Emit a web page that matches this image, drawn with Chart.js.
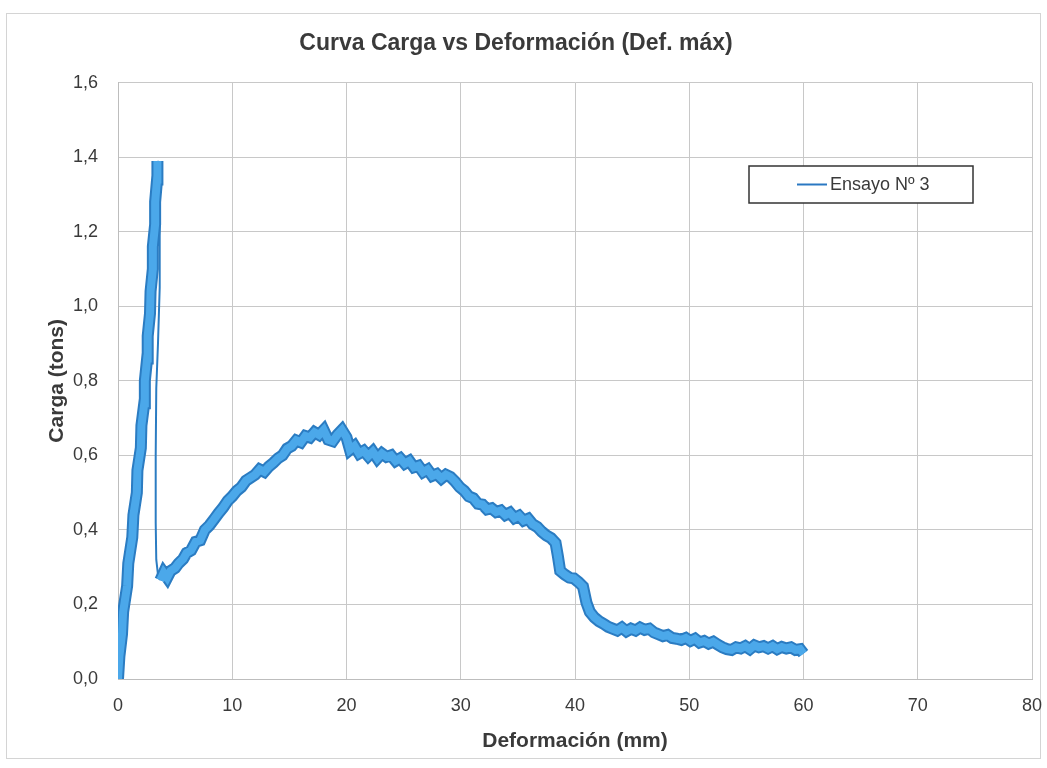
<!DOCTYPE html>
<html>
<head>
<meta charset="utf-8">
<script src="https://cdn.jsdelivr.net/npm/chart.js@4/dist/chart.umd.min.js"></script>
<style>
  html, body { margin: 0; padding: 0; background: #fff; }
  #grafico { display: block; }
</style>
</head>
<body>
<canvas id="grafico" width="1047" height="768"></canvas>
<script>
// Datos: Carga (tons) vs Deformación (mm)

// Tramo de subida hasta la carga máxima
const subidaX = [0, 0.12, 0.35, 0.45, 0.8, 0.9, 1.25, 1.35, 1.65, 1.7, 2.0, 2.05, 2.3, 2.35, 2.55, 2.6, 2.8, 2.85, 3.05, 3.05, 3.25, 3.25, 3.42, 3.45];
const subidaY = [0, 0.06, 0.12, 0.18, 0.25, 0.31, 0.38, 0.44, 0.5, 0.56, 0.62, 0.68, 0.74, 0.8, 0.86, 0.92, 0.98, 1.04, 1.1, 1.16, 1.22, 1.28, 1.34, 1.39];

// Caída brusca tras la rotura (pocos puntos, línea fina)
const caidaX = [3.55, 3.65, 3.65, 3.5, 3.35, 3.3, 3.3, 3.35, 3.5];
const caidaY = [1.38, 1.25, 1.05, 0.9, 0.78, 0.6, 0.42, 0.32, 0.28];

// Tramo residual
const residualX = [3.7, 4.0, 4.3, 4.6, 5.0, 5.3, 5.7, 6.0, 6.4, 6.8, 7.2, 7.6, 8.0, 8.4, 8.8, 9.2, 9.6, 10.0, 10.4, 10.8,
  11.2, 11.6, 12.0, 12.4, 12.8, 13.2, 13.6, 14.0, 14.4, 14.8, 15.2, 15.6, 16.0, 16.4, 16.8, 17.2, 17.6, 18.0, 18.4, 18.8,
  19.2, 19.6, 20.0, 20.3, 20.7, 21.1, 21.5, 21.9, 22.3, 22.7, 23.1, 23.5, 23.9, 24.3, 24.7, 25.1, 25.5, 25.9, 26.3, 26.7,
  27.1, 27.5, 27.9, 28.3, 28.7, 29.1, 29.5, 29.9, 30.3, 30.7, 31.1, 31.5, 31.9, 32.3, 32.7, 33.1, 33.5, 33.9, 34.3, 34.7,
  35.1, 35.5, 35.9, 36.3, 36.7, 37.1, 37.5, 37.9, 38.3, 38.5, 38.7, 39.1, 39.5, 39.9, 40.3, 40.7, 41.0, 41.3, 41.7, 42.1,
  42.5, 42.9, 43.3, 43.7, 44.1, 44.5, 44.9, 45.3, 45.7, 46.1, 46.5, 46.9, 47.3, 47.7, 48.1, 48.5, 48.9, 49.3, 49.7, 50.1,
  50.5, 50.9, 51.3, 51.7, 52.1, 52.5, 52.9, 53.3, 53.7, 54.1, 54.5, 54.9, 55.3, 55.7, 56.1, 56.5, 56.9, 57.3, 57.7, 58.1,
  58.5, 58.9, 59.3, 59.7, 60.0];
const residualY = [0.265, 0.285, 0.272, 0.29, 0.298, 0.31, 0.322, 0.338, 0.345, 0.368, 0.372, 0.4, 0.412, 0.428, 0.445, 0.46, 0.478, 0.49, 0.505, 0.515,
  0.532, 0.54, 0.548, 0.562, 0.556, 0.57, 0.58, 0.592, 0.6, 0.618, 0.625, 0.64, 0.635, 0.652, 0.648, 0.662, 0.655, 0.668, 0.642, 0.638,
  0.655, 0.668, 0.648, 0.615, 0.625, 0.605, 0.612, 0.598, 0.61, 0.592, 0.605, 0.596, 0.6, 0.585, 0.592, 0.578, 0.585, 0.568, 0.572, 0.555,
  0.562, 0.545, 0.55, 0.538, 0.548, 0.542, 0.53, 0.515, 0.505, 0.49, 0.485, 0.47, 0.468, 0.455, 0.458, 0.448, 0.452, 0.44, 0.446, 0.432,
  0.438, 0.425, 0.43, 0.415, 0.408, 0.395, 0.385, 0.378, 0.365, 0.33, 0.29, 0.28, 0.272, 0.27, 0.26, 0.248, 0.205, 0.18, 0.165, 0.155,
  0.148, 0.14, 0.135, 0.13, 0.138, 0.128, 0.135, 0.13, 0.138, 0.132, 0.135, 0.125, 0.12, 0.115, 0.118, 0.11, 0.108, 0.105, 0.11, 0.102,
  0.108, 0.098, 0.102, 0.095, 0.1, 0.092, 0.085, 0.08, 0.078, 0.085, 0.082, 0.088, 0.08, 0.09, 0.085, 0.088, 0.082, 0.088, 0.08, 0.086,
  0.082, 0.085, 0.078, 0.08, 0.068];

const xTickLabels = ['0', '10', '20', '30', '40', '50', '60', '70', '80'];
const yTickLabels = ['0,0', '0,2', '0,4', '0,6', '0,8', '1,0', '1,2', '1,4', '1,6'];

const FUENTE = "'Liberation Sans', Arial, sans-serif";
const TEXTO = '#3a3a3a';

// Serie completa
const puntos = [];
subidaX.forEach((x, i) => puntos.push({ x, y: subidaY[i] }));
caidaX.forEach((x, i) => puntos.push({ x, y: caidaY[i] }));
residualX.forEach((x, i) => puntos.push({ x, y: residualY[i] }));

const iPico = subidaX.length - 1;
const iFinCaida = subidaX.length + caidaX.length;
const esCaida = ctx => ctx.p0DataIndex >= iPico && ctx.p1DataIndex <= iFinCaida;

// Marco exterior y leyenda
const marcoYLeyenda = {
  id: 'marcoYLeyenda',
  beforeDraw(chart) {
    const ctx = chart.ctx;
    ctx.save();
    ctx.fillStyle = '#fff';
    ctx.fillRect(0, 0, chart.width, chart.height);
    ctx.strokeStyle = '#d4d4d4';
    ctx.lineWidth = 1;
    ctx.strokeRect(6.5, 13.5, 1034, 745);
    ctx.restore();
  },
  afterDraw(chart) {
    const ctx = chart.ctx;
    ctx.save();
    ctx.fillStyle = '#fff';
    ctx.fillRect(749, 166, 224, 37);
    ctx.strokeStyle = '#333';
    ctx.lineWidth = 1.5;
    ctx.strokeRect(749, 166, 224, 37);
    ctx.strokeStyle = '#2a78c2';
    ctx.lineWidth = 2;
    ctx.beginPath();
    ctx.moveTo(797, 184.5);
    ctx.lineTo(827, 184.5);
    ctx.stroke();
    ctx.fillStyle = TEXTO;
    ctx.font = '18px ' + FUENTE;
    ctx.textBaseline = 'middle';
    ctx.fillText(chart.data.datasets[0].label, 830, 185);
    ctx.restore();
  }
};

new Chart(document.getElementById('grafico'), {
  type: 'line',
  data: {
    datasets: [
      {
        label: 'Ensayo Nº 3',
        data: puntos,
        order: 1,
        borderColor: '#2b7cc2',
        borderWidth: 12,
        pointRadius: 0,
        tension: 0,
        segment: {
          borderWidth: ctx => esCaida(ctx) ? 2 : 12
        }
      },
      {
        label: 'relleno',
        data: puntos,
        order: 0,
        borderColor: '#4ba8ea',
        borderWidth: 8,
        pointRadius: 0,
        tension: 0,
        segment: {
          borderColor: ctx => esCaida(ctx) ? 'rgba(0,0,0,0)' : '#4ba8ea'
        }
      }
    ]
  },
  options: {
    responsive: false,
    animation: false,
    layout: { padding: { left: 0, right: 15, top: 0, bottom: 0 } },
    plugins: {
      legend: { display: false },
      tooltip: { enabled: false },
      title: {
        display: true,
        text: 'Curva Carga vs Deformación (Def. máx)',
        color: TEXTO,
        font: { family: FUENTE, size: 23, weight: 'bold' },
        padding: { top: 30, bottom: 25 }
      }
    },
    scales: {
      x: {
        type: 'linear',
        min: 0,
        max: 80,
        ticks: {
          stepSize: 10,
          autoSkip: false,
          maxRotation: 0,
          padding: 16,
          color: TEXTO,
          font: { family: FUENTE, size: 18 },
          callback: (v, i) => xTickLabels[i]
        },
        grid: { color: '#c8c8c8', drawTicks: false },
        border: { color: '#bdbdbd' },
        title: {
          display: true,
          text: 'Deformación (mm)',
          color: TEXTO,
          font: { family: FUENTE, size: 21, weight: 'bold' },
          padding: { top: 0, bottom: 14 }
        },
        afterFit: s => {
          s.height = 89;
          s.paddingLeft = 0;
          s.paddingRight = 0;
        }
      },
      y: {
        min: 0,
        max: 1.6,
        ticks: {
          stepSize: 0.2,
          autoSkip: false,
          padding: 20,
          color: TEXTO,
          font: { family: FUENTE, size: 18 },
          callback: (v, i) => yTickLabels[i]
        },
        grid: { color: '#c8c8c8', drawTicks: false },
        border: { color: '#bdbdbd' },
        title: {
          display: true,
          text: 'Carga (tons)',
          color: TEXTO,
          font: { family: FUENTE, size: 21, weight: 'bold' },
          padding: { top: 45, bottom: 0 }
        },
        afterFit: s => { s.width = 118; }
      }
    }
  },
  plugins: [marcoYLeyenda]
});
</script>
</body>
</html>
